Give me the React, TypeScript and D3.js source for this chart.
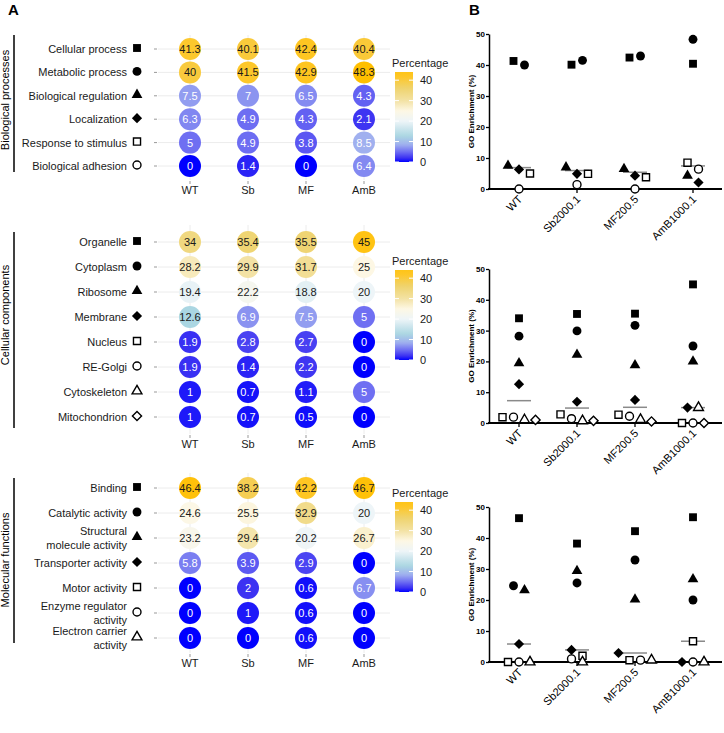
import React, { useEffect, useRef } from "react";
import * as d3 from "d3";

// conditions (short names for panel A, full names for panel B)
const conditions = ["WT", "Sb", "MF", "AmB"];
const conditionNames = ["WT", "Sb2000.1", "MF200.5", "AmB1000.1"];

// GO terms and percentages, one row per term: WT, Sb, MF, AmB
const bpTerms = [
  "Cellular process",
  "Metabolic process",
  "Biological regulation",
  "Localization",
  "Response to stimulus",
  "Biological adhesion",
];
const bpValues = [
  [41.3, 40.1, 42.4, 40.4],
  [40, 41.5, 42.9, 48.3],
  [7.5, 7, 6.5, 4.3],
  [6.3, 4.9, 4.3, 2.1],
  [5, 4.9, 3.8, 8.5],
  [0, 1.4, 0, 6.4],
];

const ccTerms = [
  "Organelle",
  "Cytoplasm",
  "Ribosome",
  "Membrane",
  "Nucleus",
  "RE-Golgi",
  "Cytoskeleton",
  "Mitochondrion",
];
const ccValues = [
  [34, 35.4, 35.5, 45],
  [28.2, 29.9, 31.7, 25],
  [19.4, 22.2, 18.8, 20],
  [12.6, 6.9, 7.5, 5],
  [1.9, 2.8, 2.7, 0],
  [1.9, 1.4, 2.2, 0],
  [1, 0.7, 1.1, 5],
  [1, 0.7, 0.5, 0],
];

const mfTerms = [
  "Binding",
  "Catalytic activity",
  "Structural\nmolecule activity",
  "Transporter activity",
  "Motor activity",
  "Enzyme regulator\nactivity",
  "Electron carrier\nactivity",
];
const mfValues = [
  [46.4, 38.2, 42.2, 46.7],
  [24.6, 25.5, 32.9, 20],
  [23.2, 29.4, 20.2, 26.7],
  [5.8, 3.9, 2.9, 0],
  [0, 2, 0.6, 6.7],
  [0, 1, 0.6, 0],
  [0, 0, 0.6, 0],
];

const legendTicks = [0, 10, 20, 30, 40];
const enrichTicks = [0, 10, 20, 30, 40, 50];

// marker used for each term, in row order
const shapes = ["square", "circle", "triangle", "diamond", "square", "circle", "triangle", "diamond"];
const filled = [true, true, true, true, false, false, false, false];

// colour gradient (blue -> light blue -> white -> gold)
const color = d3
  .scaleLinear<string>()
  .domain([0, 2, 5, 8.5, 12.6, 20, 25, 30, 36, 42, 48])
  .range([
    "#0000ff",
    "#3c32f2",
    "#6f6ff2",
    "#a0b0ef",
    "#aad6e2",
    "#eef5f8",
    "#fdf7e4",
    "#f3e2a4",
    "#efd36e",
    "#fec624",
    "#ffbf00",
  ])
  .clamp(true);

const font = "'Liberation Sans', Arial, sans-serif";

// layout of the three stacked panels
const panels = [
  { title: "Biological processes", terms: bpTerms, values: bpValues, rows: [49, 166], pad: 14, bracket: [35, 172], titleY: 100, legendShift: 0, bRange: [189, 34] },
  { title: "Cellular components", terms: ccTerms, values: ccValues, rows: [242, 417], pad: 17, bracket: [232, 428], titleY: 315, legendShift: 198, bRange: [423, 269] },
  { title: "Molecular functions", terms: mfTerms, values: mfValues, rows: [488, 638], pad: 15, bracket: [478, 643], titleY: 560, legendShift: 430, bRange: [662, 507] },
];

function markerPath(shape: string, isFilled: boolean) {
  const type =
    shape === "circle" ? d3.symbolCircle : shape === "triangle" ? d3.symbolTriangle : d3.symbolSquare;
  let size = isFilled ? 62 : 50;
  if (shape === "triangle") size = isFilled ? 50 : 42;
  if (shape === "diamond") size = isFilled ? 52 : 42;
  return d3.symbol(type, size)() as string;
}

function drawMarker(g: any, shape: string, isFilled: boolean, cx: number, cy: number) {
  g.append("path")
    .attr("d", markerPath(shape, isFilled))
    .attr("transform", `translate(${cx},${cy})${shape === "diamond" ? " rotate(45)" : ""}`)
    .attr("fill", isFilled ? "#000" : "#fff")
    .attr("stroke", "#000")
    .attr("stroke-width", isFilled ? 0 : 1.4);
}

// spread points with similar values side by side (Prism-like scatter)
function spread(vals: number[], y: (v: number) => number) {
  const items = vals.map((v, i) => ({ v, i, py: y(v) })).sort((a, b) => a.py - b.py || a.i - b.i);
  const offsets: number[] = new Array(vals.length).fill(0);
  let group: typeof items = [];
  const flush = () => {
    const g = group.slice().sort((a, b) => a.i - b.i);
    g.forEach((it, k) => (offsets[it.i] = (k - (g.length - 1) / 2) * 11));
  };
  items.forEach((it) => {
    if (group.length && it.py - group[0].py > 8.5) {
      flush();
      group = [];
    }
    group.push(it);
  });
  if (group.length) flush();
  return offsets;
}

const App = () => {
  const svgRef = useRef<SVGSVGElement>(null);

  useEffect(() => {
    const svg = d3.select(svgRef.current);
    svg.selectAll("*").remove();
    svg.attr("font-family", font);

    // gradient for the colourbar
    const defs = svg.append("defs");
    const grad = defs
      .append("linearGradient")
      .attr("id", "pctGrad")
      .attr("x1", 0)
      .attr("y1", 1)
      .attr("x2", 0)
      .attr("y2", 0);
    d3.range(0, 45, 1).forEach((v) => {
      grad.append("stop").attr("offset", v / 44).attr("stop-color", color(v));
    });

    svg.append("text").attr("x", 8).attr("y", 15).attr("font-size", 15).attr("font-weight", "bold").text("A");
    svg.append("text").attr("x", 469).attr("y", 15).attr("font-size", 15).attr("font-weight", "bold").text("B");

    panels.forEach((p) => {
      // ---------- Panel A: dot matrix ----------
      const g = svg.append("g");
      const x = d3.scalePoint().domain(conditions).range([190, 364]);
      const y = d3.scalePoint().domain(p.terms).range(p.rows);
      const top = p.rows[0] - p.pad;
      const bottom = p.rows[1] + p.pad;

      g.selectAll("line.hgrid")
        .data(p.terms)
        .join("line")
        .attr("class", "hgrid")
        .attr("x1", 158)
        .attr("x2", 390)
        .attr("y1", (d) => y(d)!)
        .attr("y2", (d) => y(d)!)
        .attr("stroke", "#ececec");
      g.selectAll("line.vgrid")
        .data(conditions)
        .join("line")
        .attr("class", "vgrid")
        .attr("x1", (d) => x(d)!)
        .attr("x2", (d) => x(d)!)
        .attr("y1", top)
        .attr("y2", bottom)
        .attr("stroke", "#ececec");
      g.selectAll("line.ltick")
        .data(p.terms)
        .join("line")
        .attr("class", "ltick")
        .attr("x1", 154)
        .attr("x2", 157)
        .attr("y1", (d) => y(d)!)
        .attr("y2", (d) => y(d)!)
        .attr("stroke", "#999");
      g.selectAll("line.btick")
        .data(conditions)
        .join("line")
        .attr("class", "btick")
        .attr("x1", (d) => x(d)!)
        .attr("x2", (d) => x(d)!)
        .attr("y1", bottom + 1)
        .attr("y2", bottom + 4)
        .attr("stroke", "#999");

      const cells = p.terms.flatMap((t, ti) =>
        conditions.map((c, ci) => ({ t, c, v: p.values[ti][ci] }))
      );
      g.selectAll("circle.cell")
        .data(cells)
        .join("circle")
        .attr("class", "cell")
        .attr("cx", (d) => x(d.c)!)
        .attr("cy", (d) => y(d.t)!)
        .attr("r", 11)
        .attr("fill", (d) => color(d.v));
      g.selectAll("text.cell")
        .data(cells)
        .join("text")
        .attr("class", "cell")
        .attr("x", (d) => x(d.c)!)
        .attr("y", (d) => y(d.t)! + 4)
        .attr("text-anchor", "middle")
        .attr("font-size", 11)
        .attr("fill", (d) => (d.v < 10 ? "#fff" : "#1a1a1a"))
        .text((d) => String(d.v));

      // row labels and markers
      p.terms.forEach((t, ti) => {
        const lines = t.split("\n");
        const cy = y(t)!;
        lines.forEach((ln, li) => {
          g.append("text")
            .attr("x", 127)
            .attr("y", cy + 4 + (li - (lines.length - 1) / 2) * 14)
            .attr("text-anchor", "end")
            .attr("font-size", 11)
            .attr("fill", "#1a1a1a")
            .text(ln);
        });
        drawMarker(g, shapes[ti], filled[ti], 137, cy - 1);
      });

      g.selectAll("text.xlab")
        .data(conditions)
        .join("text")
        .attr("class", "xlab")
        .attr("x", (d) => x(d)!)
        .attr("y", bottom + 14)
        .attr("text-anchor", "middle")
        .attr("font-size", 11)
        .attr("fill", "#1a1a1a")
        .text((d) => d);

      // group bracket and title
      g.append("line")
        .attr("x1", 14)
        .attr("x2", 14)
        .attr("y1", p.bracket[0])
        .attr("y2", p.bracket[1])
        .attr("stroke", "#000")
        .attr("stroke-width", 1.5);
      g.append("text")
        .attr("transform", `translate(9,${p.titleY}) rotate(-90)`)
        .attr("text-anchor", "middle")
        .attr("font-size", 11)
        .text(p.title);

      // colourbar legend
      const ly = d3.scaleLinear().domain([0, 44]).range([162 + p.legendShift, 72 + p.legendShift]);
      g.append("text")
        .attr("x", 392)
        .attr("y", ly(44) - 5)
        .attr("font-size", 11)
        .attr("fill", "#1a1a1a")
        .text("Percentage");
      g.append("rect")
        .attr("x", 395)
        .attr("y", ly(44))
        .attr("width", 18)
        .attr("height", ly(0) - ly(44))
        .attr("fill", "url(#pctGrad)");
      legendTicks.forEach((t) => {
        g.append("line").attr("x1", 395).attr("x2", 399).attr("y1", ly(t)).attr("y2", ly(t)).attr("stroke", "#fff");
        g.append("line").attr("x1", 409).attr("x2", 413).attr("y1", ly(t)).attr("y2", ly(t)).attr("stroke", "#fff");
        g.append("text")
          .attr("x", 420)
          .attr("y", ly(t) + 4)
          .attr("font-size", 11)
          .attr("fill", "#1a1a1a")
          .text(t);
      });

      // ---------- Panel B: scatter of enrichment ----------
      const b = svg.append("g");
      const xb = d3.scaleBand().domain(conditions).range([490, 722]);
      const yb = d3.scaleLinear().domain([0, 50]).range(p.bRange);
      const cx = (c: string) => xb(c)! + xb.bandwidth() / 2;

      const yAxis = b
        .append("g")
        .attr("transform", "translate(489,0)")
        .call(d3.axisLeft(yb).tickValues(enrichTicks).tickSize(3).tickSizeOuter(0) as any);
      yAxis.select(".domain").attr("stroke-width", 1.5);
      yAxis.selectAll(".tick line").attr("stroke-width", 1.3);
      yAxis
        .selectAll(".tick text")
        .attr("font-size", 8)
        .attr("font-weight", "bold")
        .attr("font-family", font)
        .attr("x", -4);

      b.append("line")
        .attr("x1", 488)
        .attr("x2", 722)
        .attr("y1", yb(0))
        .attr("y2", yb(0))
        .attr("stroke", "#000")
        .attr("stroke-width", 2);
      b.selectAll("line.xt")
        .data(conditions)
        .join("line")
        .attr("class", "xt")
        .attr("x1", (d) => cx(d))
        .attr("x2", (d) => cx(d))
        .attr("y1", yb(0))
        .attr("y2", yb(0) + 4)
        .attr("stroke", "#000")
        .attr("stroke-width", 1.3);
      b.selectAll("text.xl")
        .data(conditions)
        .join("text")
        .attr("class", "xl")
        .attr("transform", (d) => `translate(${cx(d) + 4},${yb(0) + 11}) rotate(-45)`)
        .attr("text-anchor", "end")
        .attr("font-size", 11)
        .text((d, i) => conditionNames[i]);

      b.append("text")
        .attr("transform", `translate(474,${(p.bRange[0] + p.bRange[1]) / 2}) rotate(-90)`)
        .attr("text-anchor", "middle")
        .attr("font-size", 8)
        .attr("font-weight", "bold")
        .text("GO Enrichment (%)");

      conditions.forEach((c, ci) => {
        const vals = p.values.map((r) => r[ci]);
        const med = d3.median(vals)!;
        b.append("line")
          .attr("x1", cx(c) - 12)
          .attr("x2", cx(c) + 12)
          .attr("y1", yb(med))
          .attr("y2", yb(med))
          .attr("stroke", "#8a8a8a")
          .attr("stroke-width", 1.5);
        const offs = spread(vals, yb);
        vals.forEach((v, ti) => {
          drawMarker(b, shapes[ti], filled[ti], cx(c) + offs[ti], yb(v));
        });
      });
    });
  }, []);

  return (
    <svg
      ref={svgRef}
      width={724}
      height={733}
      style={{ position: "absolute", left: 0, top: 0, background: "#fff" }}
    ></svg>
  );
};

export default App;
